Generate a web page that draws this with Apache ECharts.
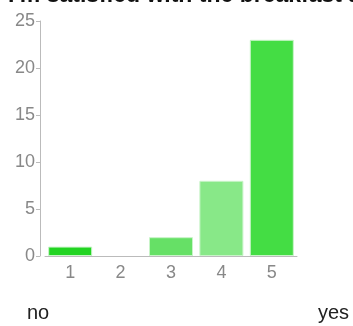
<!DOCTYPE html>
<html><head><meta charset="utf-8">
<script src="https://cdn.jsdelivr.net/npm/echarts@6/dist/echarts.min.js"></script>
<style>html,body{margin:0;padding:0;background:#fff}#c{width:353px;height:326px}</style>
</head><body><div id="c"></div>
<script>
const categories = ['1','2','3','4','5'];
const counts = [1, 0, 2, 8, 23];
const barColors = ['#22d422','#44dd44','#66e066','#88e888','#44dd44'];
const yTicks = {min:0, max:25, interval:5};
const titleText = "I'm satisfied with the breakfast at school";
const endLabels = ['no','yes'];

const chart = echarts.init(document.getElementById('c'), null, {renderer:'canvas'});
chart.setOption({
  animation:false,
  title:{text:titleText, left:3, top:-21, textStyle:{fontFamily:'Liberation Sans', fontWeight:'bold', fontSize:23, color:'#111'}},
  graphic:[
    {type:'text', left:27, top:303, style:{text:endLabels[0], font:'20px Liberation Sans', fill:'#222'}},
    {type:'text', left:318, top:303, style:{text:endLabels[1], font:'20px Liberation Sans', fill:'#222'}}
  ],
  grid:{left:45, right:56, top:21, bottom:70, containLabel:false},
  xAxis:{type:'category', data:categories,
    axisLine:{lineStyle:{color:'#bbb'}},
    axisTick:{alignWithLabel:true, length:4, lineStyle:{color:'#bbb'}},
    axisLabel:{color:'#888', fontFamily:'Liberation Sans', fontSize:18, margin:8}},
  yAxis:{type:'value', min:yTicks.min, max:yTicks.max, interval:yTicks.interval, offset:5,
    axisLine:{show:true, lineStyle:{color:'#bbb'}},
    axisTick:{show:true, length:4, lineStyle:{color:'#bbb'}},
    splitLine:{show:false},
    axisLabel:{color:'#888', fontFamily:'Liberation Sans', fontSize:18, margin:5}},
  series:[{type:'bar', barWidth:44,
    data:counts.map((v,i)=>({value:v, itemStyle:{color:barColors[i], borderColor:'#c8f4c8', borderWidth:v>0?1:0}}))}]
});
</script></body></html>
